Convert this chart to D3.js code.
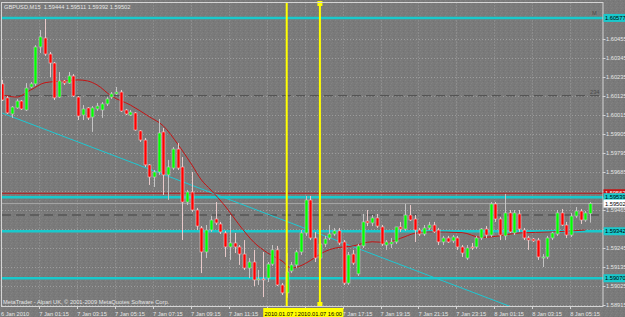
<!DOCTYPE html>
<html>
<head>
<meta charset="utf-8">
<script src="https://cdn.jsdelivr.net/npm/d3@7"></script>
<style>
  body { margin: 0; background: #7b7b7b; }
  svg { display: block; }
  text { font-family: "Liberation Sans", Arial, sans-serif; }
</style>
</head>
<body>
<svg id="chart" width="625" height="317"></svg>
<script>
// GBPUSD M15, one value per bar, bar 0 = 6 Jan 23:15
const opens = [1.60195,1.60114,1.60021,1.60056,1.60096,1.60044,1.60177,1.60195,1.60409,1.60461,
  1.60368,1.60316,1.60119,1.60212,1.60200,1.60241,1.60119,1.60015,1.60056,1.60003,
  1.60050,1.60044,1.60079,1.60119,1.60137,1.60148,1.60044,1.60015,1.60027,1.59923,
  1.59870,1.59726,1.59656,1.59685,1.59917,1.59668,1.59708,1.59818,1.59714,1.59511,
  1.59569,1.59465,1.59361,1.59222,1.59349,1.59413,1.59384,1.59332,1.59251,1.59274,
  1.59251,1.59210,1.59129,1.59164,1.59060,1.59066,1.59071,1.59152,1.59234,1.59031,
  1.58985,1.59112,1.59147,1.59222,1.59332,1.59523,1.59303,1.59187,1.59268,1.59303,
  1.59326,1.59344,1.59280,1.59042,1.59210,1.59095,1.59257,1.59401,1.59390,1.59419,
  1.59367,1.59262,1.59268,1.59280,1.59367,1.59355,1.59436,1.59413,1.59349,1.59326,
  1.59361,1.59378,1.59349,1.59280,1.59303,1.59286,1.59303,1.59251,1.59187,1.59251,
  1.59251,1.59303,1.59355,1.59320,1.59500,1.59413,1.59315,1.59448,1.59332,1.59442,
  1.59349,1.59303,1.59297,1.59291,1.59187,1.59193,1.59303,1.59326,1.59448,1.59378,
  1.59320,1.59430,1.59459,1.59407,1.59444];
const highs = [1.60218,1.60125,1.60067,1.60108,1.60102,1.60200,1.60206,1.60420,1.60507,1.60571,
  1.60380,1.60322,1.60264,1.60218,1.60264,1.60252,1.60125,1.60073,1.60061,1.60067,
  1.60085,1.60090,1.60119,1.60148,1.60177,1.60160,1.60050,1.60044,1.60032,1.59928,
  1.59882,1.59731,1.59697,1.59992,1.59940,1.59755,1.59830,1.59853,1.59772,1.59581,
  1.59685,1.59477,1.59372,1.59378,1.59430,1.59511,1.59396,1.59344,1.59436,1.59332,
  1.59262,1.59291,1.59187,1.59234,1.59118,1.59222,1.59164,1.59262,1.59257,1.59042,
  1.59216,1.59164,1.59234,1.59349,1.59546,1.59546,1.59338,1.59291,1.59315,1.59378,
  1.59361,1.59361,1.59291,1.59222,1.59234,1.59268,1.59442,1.59465,1.59436,1.59442,
  1.59378,1.59291,1.59303,1.59361,1.59396,1.59500,1.59494,1.59436,1.59361,1.59378,
  1.59396,1.59396,1.59361,1.59315,1.59315,1.59320,1.59315,1.59262,1.59262,1.59274,
  1.59315,1.59361,1.59372,1.59511,1.59511,1.59425,1.59558,1.59465,1.59465,1.59465,
  1.59361,1.59315,1.59303,1.59303,1.59210,1.59315,1.59338,1.59465,1.59471,1.59396,
  1.59448,1.59482,1.59471,1.59459,1.59511];
const lows = [1.60096,1.60021,1.59998,1.60050,1.60044,1.60038,1.60171,1.60183,1.60374,1.60357,
  1.60235,1.60102,1.60114,1.60189,1.60195,1.60119,1.59986,1.59986,1.59986,1.59917,
  1.60038,1.59998,1.60067,1.60108,1.60131,1.60032,1.60015,1.60009,1.59923,1.59859,
  1.59714,1.59610,1.59598,1.59668,1.59552,1.59523,1.59697,1.59697,1.59291,1.59494,
  1.59454,1.59349,1.59100,1.59187,1.59338,1.59378,1.59326,1.59193,1.59176,1.59216,
  1.59147,1.59118,1.59071,1.59025,1.59031,1.58961,1.59048,1.59141,1.59025,1.58973,
  1.58956,1.59100,1.59129,1.59205,1.59315,1.59291,1.59164,1.59176,1.59251,1.59291,
  1.59315,1.59262,1.59031,1.59031,1.59147,1.59083,1.59245,1.59372,1.59372,1.59361,
  1.59257,1.59234,1.59245,1.59268,1.59338,1.59344,1.59401,1.59280,1.59315,1.59315,
  1.59349,1.59332,1.59262,1.59262,1.59274,1.59274,1.59234,1.59193,1.59176,1.59234,
  1.59239,1.59291,1.59303,1.59309,1.59396,1.59291,1.59291,1.59332,1.59320,1.59338,
  1.59291,1.59234,1.59280,1.59176,1.59135,1.59181,1.59291,1.59315,1.59372,1.59303,
  1.59309,1.59419,1.59384,1.59396,1.59392];
const closes = [1.60102,1.60027,1.60061,1.60096,1.60050,1.60171,1.60195,1.60409,1.60467,1.60368,
  1.60316,1.60114,1.60212,1.60200,1.60241,1.60125,1.60009,1.60050,1.59998,1.60056,
  1.60067,1.60079,1.60108,1.60137,1.60148,1.60038,1.60021,1.60032,1.59928,1.59870,
  1.59726,1.59656,1.59685,1.59911,1.59668,1.59714,1.59818,1.59708,1.59511,1.59569,
  1.59465,1.59372,1.59222,1.59349,1.59407,1.59390,1.59338,1.59251,1.59274,1.59251,
  1.59210,1.59129,1.59164,1.59060,1.59066,1.59060,1.59152,1.59234,1.59031,1.58985,
  1.59106,1.59147,1.59222,1.59332,1.59523,1.59303,1.59187,1.59268,1.59297,1.59326,
  1.59344,1.59274,1.59042,1.59205,1.59158,1.59257,1.59396,1.59390,1.59419,1.59372,
  1.59268,1.59280,1.59280,1.59367,1.59355,1.59436,1.59407,1.59349,1.59326,1.59361,
  1.59378,1.59338,1.59280,1.59303,1.59280,1.59309,1.59251,1.59216,1.59245,1.59245,
  1.59303,1.59355,1.59320,1.59500,1.59413,1.59320,1.59448,1.59338,1.59448,1.59355,
  1.59303,1.59291,1.59286,1.59193,1.59193,1.59303,1.59332,1.59448,1.59378,1.59320,
  1.59430,1.59459,1.59407,1.59448,1.59502];

// moving average at some bars
const maBars   = [0,3,6,9,13,16,18,20,23,27,31,34,37,40,42,44,47,50,53,56,59,61,64,66,68,70,74,78,81,84,87,90,97,101,104,109,116,123];
const maValues = [1.60131,1.60119,1.60160,1.60202,1.60212,1.60218,1.60212,1.60189,1.60125,1.60073,1.60005,1.59951,1.59847,1.59726,1.59639,1.59581,1.59488,1.59378,1.59280,1.59216,1.59170,1.59129,1.59156,1.59191,1.59224,1.59243,1.59257,1.59281,1.59277,1.59301,1.59330,1.59338,1.59334,1.59306,1.59312,1.59332,1.59338,1.59349];

const trendBars = [0, 100];
const trendValues = [1.60026, 1.58981];

const cyanLevels = [1.60577, 1.59539, 1.59342, 1.59070];
const redLevels = [1.59562];
const dashedLevels = [1.60127, 1.59436];
const bidLevel = 1.59502;

const vlineBars = [60, 67];
const vlineLabels = ["2010.01.07 14:15", "2010.01.07 16:00"];

const timeTickBars = [0,8,16,24,32,40,48,56,64,72,80,88,96,104,112,120];
const timeTickLabels = ["6 Jan 2010","7 Jan 01:15","7 Jan 03:15","7 Jan 05:15","7 Jan 07:15","7 Jan 09:15",
  "7 Jan 11:15","7 Jan 13:15","7 Jan 15:15","7 Jan 17:15","7 Jan 19:15","7 Jan 21:15","7 Jan 23:15",
  "8 Jan 01:15","8 Jan 03:15","8 Jan 05:15"];
const priceTicks = [1.60455,1.60345,1.60235,1.60125,1.60015,1.59905,1.59795,1.59685,1.59575,1.59465,1.59355,1.59245,1.59135,1.59025,1.58915];

const W = 625, H = 317;
const plot = { left: 2, top: 2.5, right: 603, bottom: 306.5 };
const fontSize = 5.7;

const svg = d3.select("#chart");

const x = d3.scaleLinear().domain([0, 124]).range([2.3, 590.1]);
const y = d3.scaleLinear().domain([1.58915, 1.60455]).range([305, 39]);

const defs = svg.append("defs");

// speckled grey background like the screenshot
const pat = defs.append("pattern").attr("id", "speckle")
  .attr("width", 5).attr("height", 5).attr("patternUnits", "userSpaceOnUse");
pat.append("rect").attr("width", 5).attr("height", 5).attr("fill", "#7a7a7a");
[[0, 0, "#838383"], [3, 1, "#727272"], [1, 3, "#828282"], [4, 4, "#747474"], [2, 2, "#808080"]].forEach((p) => {
  pat.append("rect").attr("x", p[0]).attr("y", p[1]).attr("width", 1).attr("height", 1).attr("fill", p[2]);
});
svg.append("rect").attr("width", W).attr("height", H).attr("fill", "url(#speckle)");

defs.append("clipPath").attr("id", "plotclip")
  .append("rect")
  .attr("x", plot.left).attr("y", plot.top)
  .attr("width", plot.right - plot.left).attr("height", plot.bottom - plot.top);

const g = svg.append("g").attr("clip-path", "url(#plotclip)");

// grid
g.append("g").selectAll("line").data(priceTicks).enter().append("line")
  .attr("x1", plot.left).attr("x2", plot.right)
  .attr("y1", (d) => Math.round(y(d)) + 0.5).attr("y2", (d) => Math.round(y(d)) + 0.5)
  .attr("stroke", "#9c9c9c").attr("stroke-dasharray", "1,2");
g.append("g").selectAll("line").data(timeTickBars.slice(1)).enter().append("line")
  .attr("x1", (d) => Math.round(x(d)) - 0.5).attr("x2", (d) => Math.round(x(d)) - 0.5)
  .attr("y1", plot.top).attr("y2", plot.bottom)
  .attr("stroke", "#9c9c9c").attr("stroke-dasharray", "1,2");

// dashed levels and bid line
g.append("g").selectAll("line").data(dashedLevels).enter().append("line")
  .attr("x1", plot.left).attr("x2", plot.right)
  .attr("y1", (d) => y(d)).attr("y2", (d) => y(d))
  .attr("stroke", "#555").attr("stroke-width", 1.3).attr("stroke-dasharray", "9,5");
g.append("line")
  .attr("x1", plot.left).attr("x2", plot.right)
  .attr("y1", y(bidLevel)).attr("y2", y(bidLevel))
  .attr("stroke", "#a8a8a8").attr("stroke-width", 1);

// horizontal levels
g.append("g").selectAll("line").data(redLevels).enter().append("line")
  .attr("x1", plot.left).attr("x2", plot.right)
  .attr("y1", (d) => y(d)).attr("y2", (d) => y(d))
  .attr("stroke", "#b51616").attr("stroke-width", 1.2);
g.append("g").selectAll("line").data(cyanLevels).enter().append("line")
  .attr("x1", plot.left).attr("x2", plot.right)
  .attr("y1", (d) => y(d)).attr("y2", (d) => y(d))
  .attr("stroke", "#19c9cc").attr("stroke-width", 2.6);

// trend line (ray through two anchors)
const trendEnd = 135;
const trendEndValue = trendValues[0] + (trendValues[1] - trendValues[0]) * (trendEnd - trendBars[0]) / (trendBars[1] - trendBars[0]);
g.append("line")
  .attr("x1", x(trendBars[0])).attr("y1", y(trendValues[0]))
  .attr("x2", x(trendEnd)).attr("y2", y(trendEndValue))
  .attr("stroke", "#1ec8d2").attr("stroke-width", 1);

// moving average
const maLine = d3.line().x((d) => x(d[0])).y((d) => y(d[1])).curve(d3.curveMonotoneX);
g.append("path")
  .datum(maBars.map((b, i) => [b, maValues[i]]))
  .attr("d", maLine)
  .attr("fill", "none").attr("stroke", "#c41414").attr("stroke-width", 1);

// candles
const bars = opens.map((o, i) => ({ i, o, h: highs[i], l: lows[i], c: closes[i] }));
const candle = g.append("g").selectAll("g").data(bars).enter().append("g");
const wickColor = (d) => (d.c >= d.o ? "#c4c4c4" : "#e8c9c9");
candle.append("line")
  .attr("x1", (d) => Math.round(x(d.i)) + 0.5).attr("x2", (d) => Math.round(x(d.i)) + 0.5)
  .attr("y1", (d) => y(d.h)).attr("y2", (d) => y(d.l))
  .attr("stroke", wickColor).attr("stroke-width", 1);
candle.append("rect")
  .attr("x", (d) => Math.round(x(d.i)) - 1)
  .attr("width", 3)
  .attr("y", (d) => Math.min(y(d.o), y(d.c)))
  .attr("height", (d) => Math.max(1, Math.abs(y(d.o) - y(d.c))))
  .attr("fill", (d) => (Math.abs(y(d.o) - y(d.c)) < 1 ? "#d8d8d8" : d.c >= d.o ? "#00ff00" : "#ff0000"))
  .attr("stroke", wickColor).attr("stroke-width", 0.6);

// vertical lines
g.append("g").selectAll("line").data(vlineBars).enter().append("line")
  .attr("x1", (d) => x(d)).attr("x2", (d) => x(d))
  .attr("y1", plot.top).attr("y2", plot.bottom)
  .attr("stroke", "#ffff00").attr("stroke-width", 2);
svg.append("g").selectAll("rect").data([plot.top + 1, plot.bottom - 2]).enter().append("rect")
  .attr("x", x(vlineBars[1]) - 2.5).attr("y", (d) => d - 2.5)
  .attr("width", 5).attr("height", 5).attr("fill", "#ffff00");

// small object labels
svg.append("text").attr("x", 592).attr("y", y(cyanLevels[0]) - 2.5)
  .attr("font-size", fontSize).attr("fill", "#4a4a4a").text("M");
svg.append("text").attr("x", 590).attr("y", y(dashedLevels[0]) - 2)
  .attr("font-size", fontSize).attr("fill", "#4a4a4a").text("234");

// frame
svg.append("rect")
  .attr("x", plot.left - 0.5).attr("y", plot.top)
  .attr("width", plot.right - plot.left + 0.5).attr("height", plot.bottom - plot.top)
  .attr("fill", "none").attr("stroke", "#d4d4d4").attr("stroke-width", 1);

// price axis; labels hidden under the value boxes are left out, as in the terminal
const boxLevels = redLevels.concat(cyanLevels, [bidLevel]);
const visiblePriceTicks = priceTicks.filter((p) => boxLevels.every((b) => Math.abs(y(p) - y(b)) > 6));
svg.append("g").selectAll("line").data(priceTicks).enter().append("line")
  .attr("x1", plot.right).attr("x2", plot.right + 2.5)
  .attr("y1", (d) => Math.round(y(d)) + 0.5).attr("y2", (d) => Math.round(y(d)) + 0.5)
  .attr("stroke", "#d4d4d4");
svg.append("g").selectAll("text").data(visiblePriceTicks).enter().append("text")
  .attr("x", 606).attr("y", (d) => y(d) + 2)
  .attr("font-size", fontSize).attr("fill", "#e6e6e6")
  .text((d) => d3.format(".5f")(d));

// time axis; labels under the yellow time boxes are left out
const timeLabels = timeTickBars.map((b, i) => ({ b, t: timeTickLabels[i] }))
  .filter((d) => vlineBars.every((v) => d.b < v - 6 || d.b > v + 4));
svg.append("g").selectAll("line").data(timeTickBars.slice(1)).enter().append("line")
  .attr("x1", (d) => Math.round(x(d)) - 0.5).attr("x2", (d) => Math.round(x(d)) - 0.5)
  .attr("y1", plot.bottom).attr("y2", plot.bottom + 2.5)
  .attr("stroke", "#d4d4d4");
svg.append("g").selectAll("text").data(timeLabels).enter().append("text")
  .attr("x", (d) => (d.b === 0 ? 1 : x(d.b) - 1)).attr("y", 315.5)
  .attr("font-size", fontSize).attr("fill", "#e6e6e6")
  .text((d) => d.t);

// value boxes on the price axis
function priceBox(level, fill, color) {
  const yy = y(level);
  svg.append("rect").attr("x", plot.right + 0.5).attr("y", yy - 4).attr("width", 22).attr("height", 8).attr("fill", fill);
  svg.append("text").attr("x", 605).attr("y", yy + 2.1)
    .attr("font-size", fontSize).attr("fill", color).text(d3.format(".5f")(level));
}
redLevels.forEach((d) => priceBox(d, "#c81414", "#ffffff"));
cyanLevels.forEach((d) => priceBox(d, "#19c9cc", "#000000"));
priceBox(bidLevel, "#ffffff", "#000000");

// time boxes for vertical lines
vlineBars.forEach((b, i) => {
  svg.append("rect").attr("x", x(b) - 23.5).attr("y", 308).attr("width", 47).attr("height", 9).attr("fill", "#ffff00");
  svg.append("text").attr("x", x(b)).attr("y", 315.5).attr("text-anchor", "middle")
    .attr("font-size", fontSize).attr("fill", "#000").text(vlineLabels[i]);
});

// header and copyright
svg.append("text").attr("x", 4).attr("y", 8.5).attr("font-size", fontSize).attr("fill", "#e6e6e6")
  .attr("xml:space", "preserve")
  .text("GBPUSD,M15  1.59444 1.59511 1.59392 1.59502");
svg.append("text").attr("x", 3).attr("y", 304).attr("font-size", fontSize).attr("fill", "#e6e6e6")
  .text("MetaTrader - Alpari UK, \u00a9 2001-2009 MetaQuotes Software Corp.");
</script>
</body>
</html>
